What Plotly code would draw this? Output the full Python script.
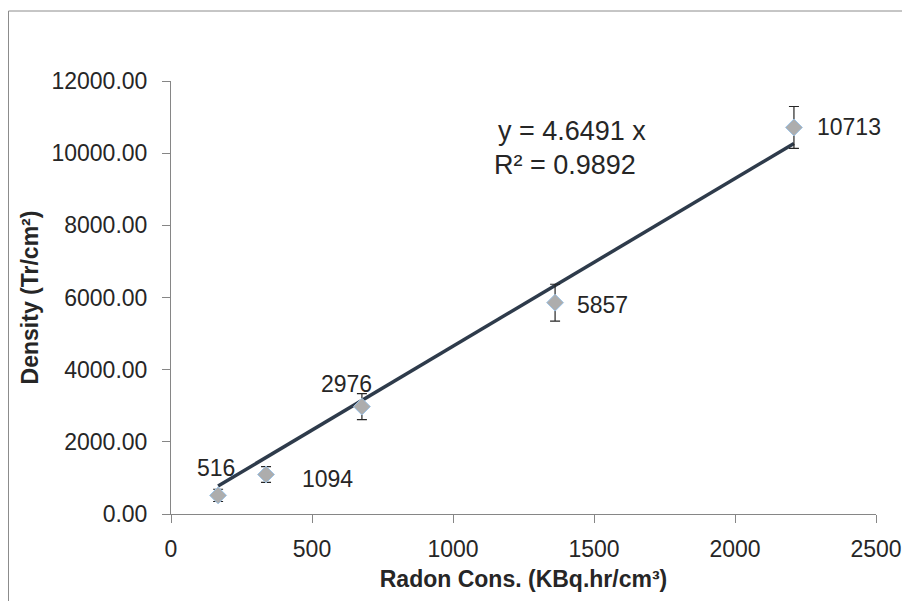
import numpy as np
import plotly.graph_objects as go

radon = [167, 337, 677, 1362, 2209]
density = [516, 1094, 2976, 5857, 10713]
err = [170, 220, 360, 510, 580]
labels = ["516", "1094", "2976", "5857", "10713"]
slope = 4.6491
r2 = 0.9892

x_ticks = [0, 500, 1000, 1500, 2000, 2500]
y_ticks = [0, 2000, 4000, 6000, 8000, 10000, 12000]

FONT = "Liberation Sans"
AX = "#868686"
OFF = 8  # default body margin of the html page

L, T = 171 - OFF, 81 - OFF
PW, PH = 705, 433

def px(p):   # page x pixel -> paper x
    return (p - 171) / PW

def py(p):   # page y pixel -> paper y
    return (514 - p) / PH

fig = go.Figure()

xl = np.array([min(radon), max(radon)])
fig.add_trace(go.Scatter(x=xl, y=slope * xl, mode="lines",
                         line=dict(color="#2E3B4B", width=3.5),
                         hoverinfo="skip", showlegend=False))

fig.add_trace(go.Scatter(
    x=radon, y=density, mode="markers",
    marker=dict(symbol="diamond", size=13, color="#ADADAD",
                line=dict(color="#9DC3E6", width=1)),
    error_y=dict(type="data", array=err, visible=True,
                 color="#262626", thickness=1.2, width=5),
    showlegend=False))

# data labels: (xshift, yshift, xanchor)
offs = [(-2, 27, "center"), (34, -4, "left"), (-15, 23, "center"),
        (20, -2, "left"), (21, 0, "left")]
for xv, yv, t, (dx, dy, xa) in zip(radon, density, labels, offs):
    fig.add_annotation(x=xv, y=yv, text=t, showarrow=False,
                       xshift=dx, yshift=dy, xanchor=xa, yanchor="middle",
                       font=dict(family=FONT, size=23, color="#262626"))

fig.add_annotation(xref="paper", yref="paper", x=px(572), y=py(131),
                   xanchor="center", yanchor="middle",
                   text=f"y = {slope} x", showarrow=False,
                   font=dict(family=FONT, size=27, color="#262626"))
fig.add_annotation(xref="paper", yref="paper", x=px(565), y=py(165),
                   xanchor="center", yanchor="middle",
                   text=f"R² = {r2}", showarrow=False,
                   font=dict(family=FONT, size=27, color="#262626"))

fig.add_shape(type="rect", xref="paper", yref="paper",
              x0=px(OFF + 0.5), x1=px(960),
              y0=py(660), y1=py(11),
              line=dict(color="#8C8C8C", width=1), fillcolor="rgba(0,0,0,0)",
              layer="below")

fig.update_layout(
    width=910, height=601,
    margin=dict(l=L, r=910 - L - PW, t=T, b=601 - T - PH),
    paper_bgcolor="white", plot_bgcolor="white",
    font=dict(family=FONT, color="#262626"),
    xaxis=dict(range=[0, 2500], tickvals=x_ticks, ticktext=[str(v) for v in x_ticks],
               showgrid=False, zeroline=False, showline=True, linecolor=AX, linewidth=1,
               ticks="outside", ticklen=8, tickcolor=AX, ticklabelstandoff=6,
               tickfont=dict(family=FONT, size=23, color="#262626"),
               title=dict(text="<b>Radon Cons. (KBq.hr/cm³)</b>",
                          font=dict(family=FONT, size=23, color="#262626"), standoff=10)),
    yaxis=dict(range=[0, 12000], tickvals=y_ticks, ticktext=[f"{v:.2f}" for v in y_ticks],
               showgrid=False, zeroline=False, showline=True, linecolor=AX, linewidth=1,
               ticks="outside", ticklen=8, tickcolor=AX, ticklabelstandoff=10,
               tickfont=dict(family=FONT, size=23, color="#262626"),
               title=dict(text="<b>Density (Tr/cm²)</b>",
                          font=dict(family=FONT, size=23, color="#262626"), standoff=6)),
)

fig.write_html("out.html")
